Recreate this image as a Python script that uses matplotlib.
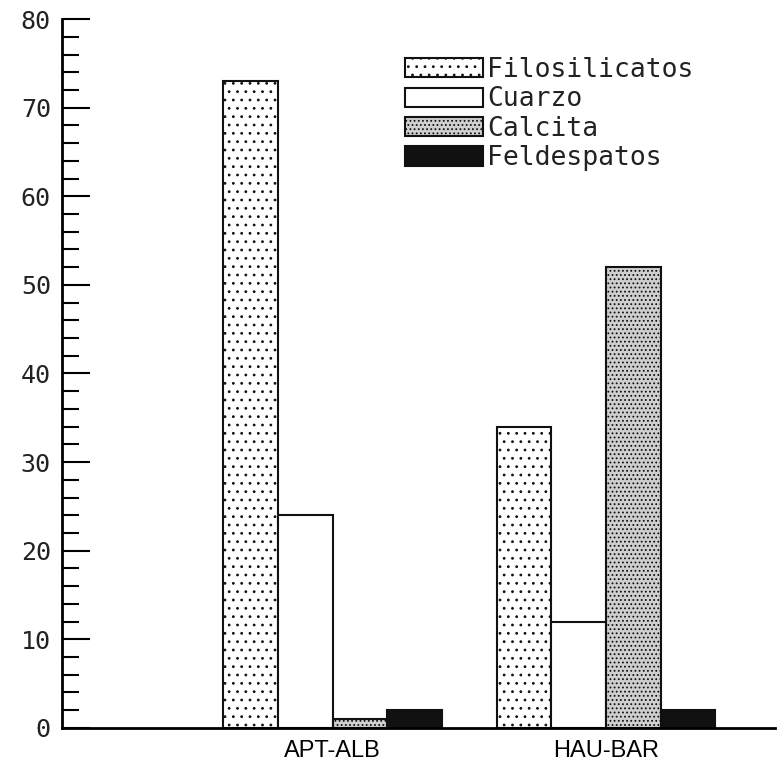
import matplotlib.pyplot as plt
import numpy as np

groups = ['APT-ALB', 'HAU-BAR']
minerals = ['Filosilicatos', 'Cuarzo', 'Calcita', 'Feldespatos']
filosilicatos = [73, 34]
cuarzo = [24, 12]
calcita = [1, 52]
feldespatos = [2, 2]

values = [filosilicatos, cuarzo, calcita, feldespatos]
faces = ['white', 'white', '#cfcfcf', '#111111']
hatches = ['..', None, '....', None]

plt.rcParams['hatch.linewidth'] = 0.8
fig = plt.figure(figsize=(7.84, 7.63), dpi=100)
ax = fig.add_axes([0.079, 0.046, 0.91, 0.929])

centers = np.array([0, 5])
width = 1.0
for k in range(len(minerals)):
    pos = centers + (k - 1.5) * width
    ax.bar(pos, values[k], width=width, facecolor=faces[k], edgecolor='#111111',
           hatch=hatches[k], linewidth=1.5, label=minerals[k])

ax.set_xlim(-4.95, 8.1)
ax.set_ylim(0, 80)
ax.set_yticks(np.arange(0, 81, 10))
ax.set_yticks(np.arange(0, 81, 2), minor=True)
ax.set_xticks(centers)
ax.set_xticklabels(groups, fontfamily='Liberation Sans', fontsize=17)
ax.tick_params(axis='x', length=0, pad=9)
ax.tick_params(axis='y', which='major', direction='in', length=20, width=1.5, pad=8)
ax.tick_params(axis='y', which='minor', direction='in', length=12, width=1.5)
for lab in ax.get_yticklabels():
    lab.set_fontfamily('DejaVu Sans Mono')
    lab.set_fontsize(18)
    lab.set_color('#222222')

for s in ['top', 'right']:
    ax.spines[s].set_visible(False)
for s in ['left', 'bottom']:
    ax.spines[s].set_linewidth(2)

leg = ax.legend(loc='upper left', bbox_to_anchor=(405 / 784, 1 - 57 / 763),
                bbox_transform=fig.transFigure, frameon=False,
                prop={'family': 'DejaVu Sans Mono', 'size': 19}, handlelength=2.95,
                handleheight=0.75, handletextpad=0.15, labelspacing=0.13,
                borderaxespad=0, borderpad=0)
for t in leg.get_texts():
    t.set_color('#222222')

fig.savefig('out.png', dpi=100)
